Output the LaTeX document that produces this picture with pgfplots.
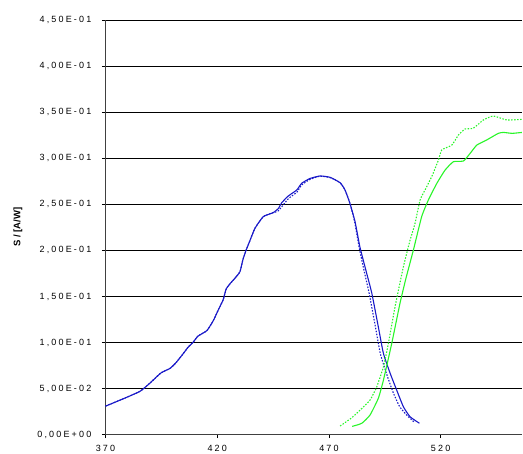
\documentclass[border=0pt]{standalone}
\usepackage{fontspec}
\setmainfont{Liberation Sans}
\newfontfamily\tickfont[LetterSpace=24]{Liberation Sans}
\usepackage{pgfplots}
\pgfplotsset{compat=1.18}
\definecolor{cblue}{RGB}{25,25,200}
\definecolor{cgreen}{RGB}{40,245,40}
\begin{document}
\begin{tikzpicture}
\begin{axis}[
  scale only axis,
  width=416.5pt, height=414.7pt,
  xmin=370, xmax=556.4, ymin=0, ymax=0.45,
  axis x line=bottom, axis y line=left,
  axis line style={-, black!75, line width=1.2pt},
  xtick={370,420,470,520},
  xticklabels={370,420,470,520},
  ytick={0,0.05,0.1,0.15,0.2,0.25,0.3,0.35,0.4,0.45},
  yticklabels={{0,00E+00},{5,00E-02},{1,00E-01},{1,50E-01},{2,00E-01},{2,50E-01},{3,00E-01},{3,50E-01},{4,00E-01},{4,50E-01}},
  tick style={black, line width=0.8pt},
  major tick length=3.5pt,
  tick align=outside,
  ymajorgrids,
  grid style={black, line width=0.9pt},
  xticklabel style={font=\tickfont\fontsize{9}{10}\selectfont, anchor=north, inner sep=0pt, yshift=-7pt},
  yticklabel style={font=\tickfont\fontsize{9}{10}\selectfont, anchor=east, inner sep=0pt, xshift=-10.5pt},
  ylabel={S / [A/W]},
  ylabel style={font=\bfseries\fontsize{9.5}{10}\selectfont, at={(axis description cs:-0.21,0.5)}, anchor=center},
  clip=true,
]
\addplot[cblue, line width=1.1pt, smooth, tension=0.3] coordinates {
(370,0.031)(377,0.038)(385.4,0.047)(389.9,0.056)(394.8,0.067)(398.9,0.072)(401.5,0.078)(404.8,0.088)(407,0.095)(409.3,0.1006)(411.4,0.107)(415.4,0.113)(418.3,0.124)(420.4,0.135)(422.6,0.146)(424,0.158)(425.8,0.164)(428,0.170)(430.2,0.177)(431.5,0.190)(432.9,0.200)(434.7,0.211)(436.9,0.224)(440.6,0.2366)(445.1,0.241)(447.4,0.2456)(448.9,0.2518)(451.8,0.259)(455.6,0.2655)(457.8,0.2728)(461.5,0.278)(466,0.2807)(470.5,0.2793)(475,0.2734)(477.2,0.2655)(479.4,0.251)(481.7,0.231)(483.9,0.2033)(486.9,0.175)(489.2,0.1534)(492.1,0.117)(494.4,0.088)(497.4,0.0666)(500.3,0.0485)(503.3,0.0304)(506.3,0.0195)(510.5,0.0124)
};
\addplot[cblue, line width=1.1pt, dash pattern=on 1.5pt off 1.5pt, smooth, tension=0.3] coordinates {
(370,0.031)(377,0.038)(385.4,0.047)(389.9,0.056)(394.8,0.067)(398.9,0.072)(401.5,0.078)(404.8,0.088)(407,0.095)(409.3,0.1006)(411.4,0.107)(415.4,0.113)(418.3,0.124)(420.4,0.135)(422.6,0.146)(424,0.158)(425.8,0.164)(428,0.170)(430.2,0.177)(431.5,0.190)(432.9,0.200)(434.7,0.211)(436.9,0.224)(440.6,0.2366)(445.1,0.241)(447.4,0.243)(451.8,0.256)(455.6,0.263)(457.8,0.271)(461.5,0.277)(466,0.2805)(470.5,0.279)(475,0.2734)(477.2,0.2655)(479.4,0.251)(481.5,0.231)(483.5,0.2033)(486,0.175)(488,0.1534)(490.8,0.117)(493,0.088)(495.8,0.066)(498.7,0.046)(501.5,0.031)(504.5,0.022)(508,0.014)
};
\addplot[cgreen, line width=1.1pt, smooth, tension=0.3] coordinates {
(480.4,0.009)(484.7,0.0124)(488.4,0.0214)(492.1,0.0395)(494.4,0.0594)(498.1,0.099)(501.8,0.1426)(504.5,0.170)(507.8,0.2004)(511.5,0.2366)(514.5,0.2547)(518.3,0.2728)(522,0.2872)(525.7,0.2962)(530.2,0.297)(533.2,0.3053)(536.2,0.3143)(540.6,0.3198)(545.8,0.327)(548.1,0.328)(552,0.327)(556.4,0.328)
};
\addplot[cgreen, line width=1.1pt, dash pattern=on 1.5pt off 1.5pt, smooth, tension=0.3] coordinates {
(475,0.0094)(480,0.018)(484,0.0268)(488.4,0.0376)(491.4,0.052)(494.4,0.0738)(496.6,0.099)(499.6,0.139)(503.3,0.182)(506.3,0.211)(508.5,0.229)(510.8,0.2547)(513,0.2655)(516,0.280)(519,0.298)(520.5,0.309)(525,0.3143)(527.9,0.325)(530.9,0.3317)(534.6,0.3325)(539.1,0.3415)(543.6,0.3458)(549.6,0.3415)(556.4,0.3422)
};
\end{axis}
\pgfresetboundingbox
\path[use as bounding box] (-105.5pt,-19.3pt) rectangle (417.5pt,434.7pt);
\end{tikzpicture}
\end{document}
